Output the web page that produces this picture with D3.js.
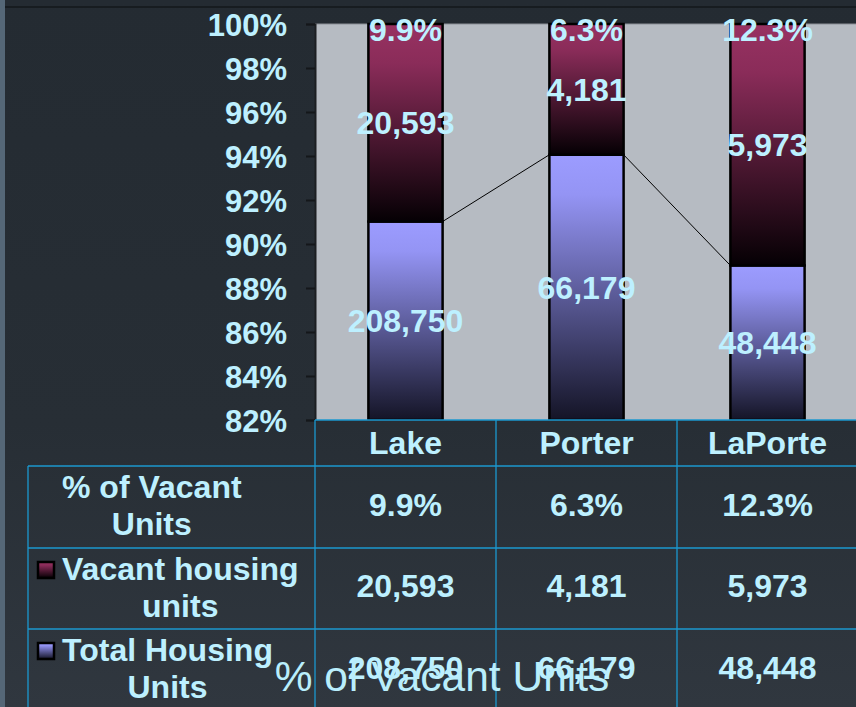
<!DOCTYPE html>
<html>
<head>
<meta charset="utf-8">
<script src="https://cdn.jsdelivr.net/npm/d3@7"></script>
<style>
  html, body { margin: 0; padding: 0; background: #252c33; overflow: hidden; }
  svg { display: block; font-family: "Liberation Sans", Arial, sans-serif; }
</style>
</head>
<body>
<div id="chart"></div>
<script>
// data
const counties = ["Lake", "Porter", "LaPorte"];
const totalUnits = [208750, 66179, 48448];
const vacantUnits = [20593, 4181, 5973];
const pctVacant = [9.9, 6.3, 12.3];
const yTicks = [0.82, 0.84, 0.86, 0.88, 0.90, 0.92, 0.94, 0.96, 0.98, 1.00];
const rowLabels = [
  { lines: ["% of Vacant", "Units"], key: null },
  { lines: ["Vacant housing", "units"], key: "vacGrad" },
  { lines: ["Total Housing", "Units"], key: "totGrad" }
];

const W = 856, H = 707;
const textCol = "#bdf0ff", gridCol = "#1b98cf";

const svg = d3.select("#chart").append("svg")
    .attr("width", W).attr("height", H);

const defs = svg.append("defs");

// background
const bg = defs.append("linearGradient").attr("id", "bgGrad")
    .attr("x1", 0).attr("y1", 0).attr("x2", 0).attr("y2", 1);
bg.append("stop").attr("offset", "0%").attr("stop-color", "#242b32");
bg.append("stop").attr("offset", "60%").attr("stop-color", "#272e35");
bg.append("stop").attr("offset", "100%").attr("stop-color", "#30373f");

const vac = defs.append("linearGradient").attr("id", "vacGrad")
    .attr("x1", 0).attr("y1", 0).attr("x2", 0).attr("y2", 1);
vac.append("stop").attr("offset", "0%").attr("stop-color", "#983262");
vac.append("stop").attr("offset", "20%").attr("stop-color", "#8a2c59");
vac.append("stop").attr("offset", "100%").attr("stop-color", "#050004");

const tot = defs.append("linearGradient").attr("id", "totGrad")
    .attr("x1", 0).attr("y1", 0).attr("x2", 0).attr("y2", 1);
tot.append("stop").attr("offset", "0%").attr("stop-color", "#9c9cff");
tot.append("stop").attr("offset", "15%").attr("stop-color", "#9494f4");
tot.append("stop").attr("offset", "100%").attr("stop-color", "#141426");

svg.append("rect").attr("width", W).attr("height", H).attr("fill", "url(#bgGrad)");
svg.append("rect").attr("x", 0).attr("y", 6).attr("width", W).attr("height", 2).attr("fill", "#171c20");
svg.append("rect").attr("x", 0).attr("y", 0).attr("width", 5).attr("height", H).attr("fill", "#556777");

// scales
const plot = { left: 315, top: 24, bottom: 420, right: 858 };
const x = d3.scaleBand().domain(counties).range([plot.left, plot.right]).padding(0);
const y = d3.scaleLinear().domain([0.82, 1]).range([plot.bottom, plot.top]);
const barW = x.bandwidth() * 0.41;

svg.append("rect")
    .attr("x", plot.left).attr("y", plot.top)
    .attr("width", W - plot.left).attr("height", plot.bottom - plot.top)
    .attr("fill", "#b6bbc2");
svg.append("line")
    .attr("x1", plot.left).attr("x2", W).attr("y1", plot.top).attr("y2", plot.top)
    .attr("stroke", "#8c9197").attr("stroke-width", 1);

// y axis
const yAxis = d3.axisLeft(y).tickValues(yTicks).tickFormat(d3.format(".0%")).tickSize(9);
const ax = svg.append("g").attr("transform", `translate(${plot.left},0)`).call(yAxis);
ax.select(".domain").attr("stroke", "#1c1f22").attr("stroke-width", 2);
ax.selectAll(".tick line").attr("stroke", "#14171a").attr("stroke-width", 2);
ax.selectAll(".tick text")
    .attr("x", -28).attr("dy", "0.36em")
    .attr("fill", textCol).style("font-size", "31px").style("font-weight", "bold");

// stacked 100% bars
const rows = counties.map((c, i) => ({ county: c, total: totalUnits[i], vacant: vacantUnits[i] }));
const series = d3.stack().keys(["total", "vacant"]).offset(d3.stackOffsetExpand)(rows);
const fills = { total: "url(#totGrad)", vacant: "url(#vacGrad)" };

svg.append("clipPath").attr("id", "plotClip").append("rect")
    .attr("x", plot.left).attr("y", plot.top - 2)
    .attr("width", W - plot.left).attr("height", plot.bottom - plot.top + 2);

const barsG = svg.append("g").attr("clip-path", "url(#plotClip)");
series.forEach(s => {
  barsG.selectAll(null).data(s).enter().append("rect")
      .attr("x", d => x(d.data.county) + (x.bandwidth() - barW) / 2)
      .attr("y", d => y(d[1]))
      .attr("width", barW)
      .attr("height", d => y(Math.max(d[0], 0.82)) - y(d[1]))
      .attr("fill", fills[s.key])
      .attr("stroke", "#000").attr("stroke-width", 2.5);
});

// series lines between total tops
const totS = series[0];
for (let i = 0; i < totS.length - 1; i++) {
  svg.append("line")
      .attr("x1", x(counties[i]) + (x.bandwidth() + barW) / 2)
      .attr("y1", y(totS[i][1]))
      .attr("x2", x(counties[i + 1]) + (x.bandwidth() - barW) / 2)
      .attr("y2", y(totS[i + 1][1]))
      .attr("stroke", "#000").attr("stroke-width", 1);
}

// value labels
const fmt = d3.format(",");
const lbl = svg.append("g").attr("fill", textCol)
    .style("font-size", "32px").style("font-weight", "bold").attr("text-anchor", "middle");
series.forEach(s => {
  lbl.selectAll(null).data(s).enter().append("text")
      .attr("x", d => x(d.data.county) + x.bandwidth() / 2)
      .attr("y", d => (y(Math.max(d[0], 0.82)) + y(d[1])) / 2)
      .attr("dy", "0.36em")
      .text(d => fmt(d.data[s.key]));
});
lbl.selectAll(null).data(counties).enter().append("text")
    .attr("x", d => x(d) + x.bandwidth() / 2)
    .attr("y", y(1) + 17)
    .text((d, i) => pctVacant[i] + "%");

// data table
const rowY = [420, 466, 548, 629, 711];
const tbl = svg.append("g");
const gl = (x1, y1, x2, y2) => tbl.append("line")
    .attr("x1", x1).attr("y1", y1).attr("x2", x2).attr("y2", y2)
    .attr("stroke", gridCol).attr("stroke-width", 1.3);
gl(plot.left, rowY[0], W, rowY[0]);
[1, 2, 3].forEach(r => gl(28, rowY[r], W, rowY[r]));
gl(28, rowY[1], 28, H);
counties.forEach(c => gl(x(c), rowY[0], x(c), H));

const tt = svg.append("g").attr("fill", textCol)
    .style("font-size", "32px").style("font-weight", "bold");
tt.selectAll(null).data(counties).enter().append("text")
    .attr("text-anchor", "middle")
    .attr("x", d => x(d) + x.bandwidth() / 2)
    .attr("y", (rowY[0] + rowY[1]) / 2 - 1).attr("dy", "0.36em")
    .text(d => d);

const tableVals = [pctVacant.map(v => v + "%"), vacantUnits.map(fmt), totalUnits.map(fmt)];
tableVals.forEach((vals, r) => {
  tt.selectAll(null).data(vals).enter().append("text")
      .attr("text-anchor", "middle")
      .attr("x", (d, i) => x(counties[i]) + x.bandwidth() / 2)
      .attr("y", (rowY[r + 1] + rowY[r + 2]) / 2 - 3).attr("dy", "0.36em")
      .text(d => d);
});

// row headers (first line starts after the legend key, second line centred under it)
rowLabels.forEach((rl, r) => {
  const top = rowY[r + 1];
  const l1 = tt.append("text").attr("x", 62).attr("y", top + 32).text(rl.lines[0]);
  const w1 = l1.node().getComputedTextLength();
  tt.append("text").attr("text-anchor", "middle")
      .attr("x", 62 + w1 / 2).attr("y", top + 69).text(rl.lines[1]);
  if (rl.key) {
    svg.append("rect")
        .attr("x", 38).attr("y", top + 14).attr("width", 16).attr("height", 16)
        .attr("fill", `url(#${rl.key})`)
        .attr("stroke", "#000").attr("stroke-width", 2.5);
  }
});

// overlapping title text
svg.append("text")
    .attr("x", 442).attr("y", 691).attr("text-anchor", "middle")
    .attr("fill", "#b9eefc").style("font-size", "42.5px")
    .text("% of Vacant Units");
</script>
</body>
</html>
